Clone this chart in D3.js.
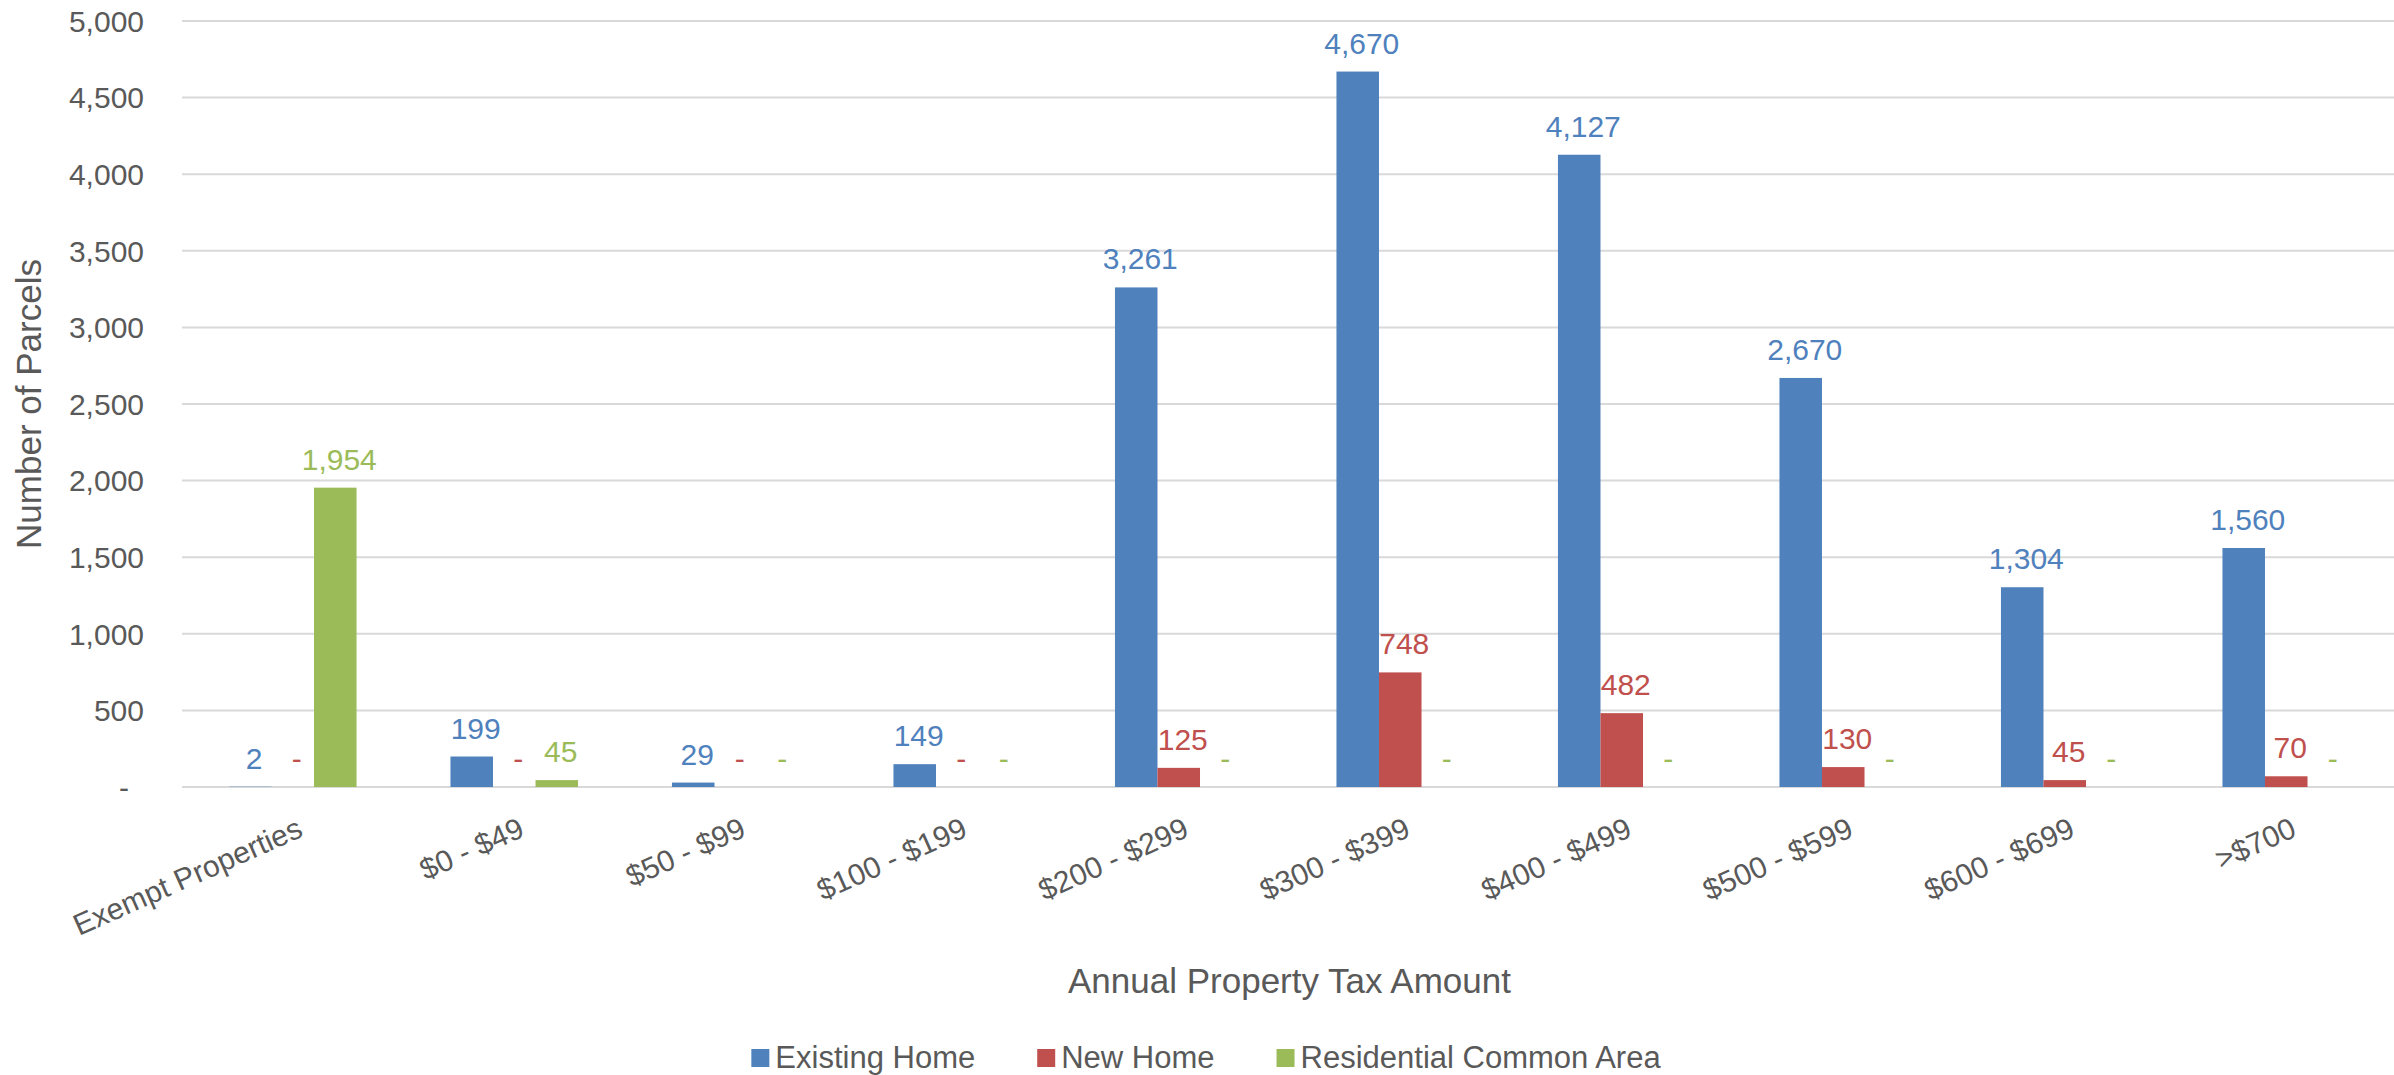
<!DOCTYPE html>
<html>
<head>
<meta charset="utf-8">
<script src="https://cdn.jsdelivr.net/npm/d3@7"></script>
<style>
  body { margin: 0; background: #fff; }
  text { font-family: "Liberation Sans", Arial, sans-serif; }
</style>
</head>
<body>
<script>
const categories = ["Exempt Properties", "$0 - $49", "$50 - $99", "$100 - $199", "$200 - $299",
                    "$300 - $399", "$400 - $499", "$500 - $599", "$600 - $699", ">$700"];
const seriesNames = ["Existing Home", "New Home", "Residential Common Area"];
const existingHome = [2, 199, 29, 149, 3261, 4670, 4127, 2670, 1304, 1560];
const newHome = [0, 0, 0, 0, 125, 748, 482, 130, 45, 70];
const commonArea = [1954, 45, 0, 0, 0, 0, 0, 0, 0, 0];
const yTicks = [0, 500, 1000, 1500, 2000, 2500, 3000, 3500, 4000, 4500, 5000];

const width = 2394, height = 1075;
const colors = ["#4F81BD", "#C0504D", "#9BBB59"];
const textColor = "#595959";
const gridColor = "#D9D9D9";

const table = categories.map((c, i) => ({
  cat: c,
  vals: [existingHome[i], newHome[i], commonArea[i]]
}));

const svg = d3.select("body").append("svg")
  .attr("width", width)
  .attr("height", height);

svg.append("rect").attr("width", width).attr("height", height).attr("fill", "#fff");

const x0 = d3.scaleBand()
  .domain(categories)
  .range([182, 2397])
  .paddingInner(0.424)
  .paddingOuter(0.212);

const x1 = d3.scaleBand()
  .domain(seriesNames)
  .range([0, x0.bandwidth()]);

const y = d3.scaleLinear()
  .domain([0, 5000])
  .range([787, 21]);

const fmt = v => v === 0 ? "-" : d3.format(",")(v);

// gridlines
svg.append("g")
  .selectAll("line")
  .data(yTicks)
  .join("line")
    .attr("x1", 182)
    .attr("x2", 2397)
    .attr("y1", d => y(d))
    .attr("y2", d => y(d))
    .attr("stroke", gridColor)
    .attr("stroke-width", 2);

// y tick labels
svg.append("g")
  .selectAll("text")
  .data(yTicks)
  .join("text")
    .attr("x", d => d === 0 ? 129 : 144)
    .attr("y", d => y(d))
    .attr("dy", "0.36em")
    .attr("text-anchor", "end")
    .attr("fill", textColor)
    .style("font-size", "30px")
    .text(fmt);

// bars
const groups = svg.append("g")
  .selectAll("g")
  .data(table)
  .join("g")
    .attr("transform", d => `translate(${x0(d.cat)},0)`);

groups.selectAll("rect")
  .data(d => d.vals.map((v, j) => ({ name: seriesNames[j], v, j })))
  .join("rect")
    .attr("x", d => x1(d.name))
    .attr("width", x1.bandwidth())
    .attr("y", d => y(d.v))
    .attr("height", d => y(0) - y(d.v))
    .attr("fill", d => colors[d.j]);

groups.selectAll("text")
  .data(d => d.vals.map((v, j) => ({ name: seriesNames[j], v, j })))
  .join("text")
    .attr("x", d => x1(d.name) + x1.bandwidth() / 2 + 4)
    .attr("y", d => y(d.v) - 18)
    .attr("text-anchor", "middle")
    .attr("fill", d => colors[d.j])
    .style("font-size", "30px")
    .text(d => fmt(d.v));

// x tick labels
svg.append("g")
  .selectAll("text")
  .data(categories)
  .join("text")
    .attr("transform", d => `translate(${x0(d) + x0.bandwidth() / 2 + 3},816) rotate(-24)`)
    .attr("dy", "0.72em")
    .attr("text-anchor", "end")
    .attr("fill", textColor)
    .style("font-size", "30px")
    .text(d => d);

// axis titles
svg.append("text")
  .attr("x", (182 + 2397) / 2)
  .attr("y", 993)
  .attr("text-anchor", "middle")
  .attr("fill", textColor)
  .style("font-size", "35px")
  .text("Annual Property Tax Amount");

svg.append("text")
  .attr("transform", "translate(41,404) rotate(-90)")
  .attr("text-anchor", "middle")
  .attr("fill", textColor)
  .style("font-size", "35px")
  .text("Number of Parcels");

// legend
const legend = svg.append("g");
const items = legend.selectAll("g")
  .data(seriesNames)
  .join("g");

items.append("rect")
  .attr("width", 18)
  .attr("height", 18)
  .attr("y", 1049)
  .attr("fill", (d, i) => colors[i]);

items.append("text")
  .attr("x", 24)
  .attr("y", 1068)
  .attr("fill", textColor)
  .style("font-size", "31px")
  .text(d => d);

let cursor = 0;
const offsets = [];
items.each(function() {
  const w = d3.select(this).select("text").node().getComputedTextLength();
  offsets.push(cursor);
  cursor += 24 + w + 62;
});
const total = cursor - 62;
const startX = 1206 - total / 2;
items.attr("transform", (d, i) => `translate(${startX + offsets[i]},0)`);
</script>
</body>
</html>
